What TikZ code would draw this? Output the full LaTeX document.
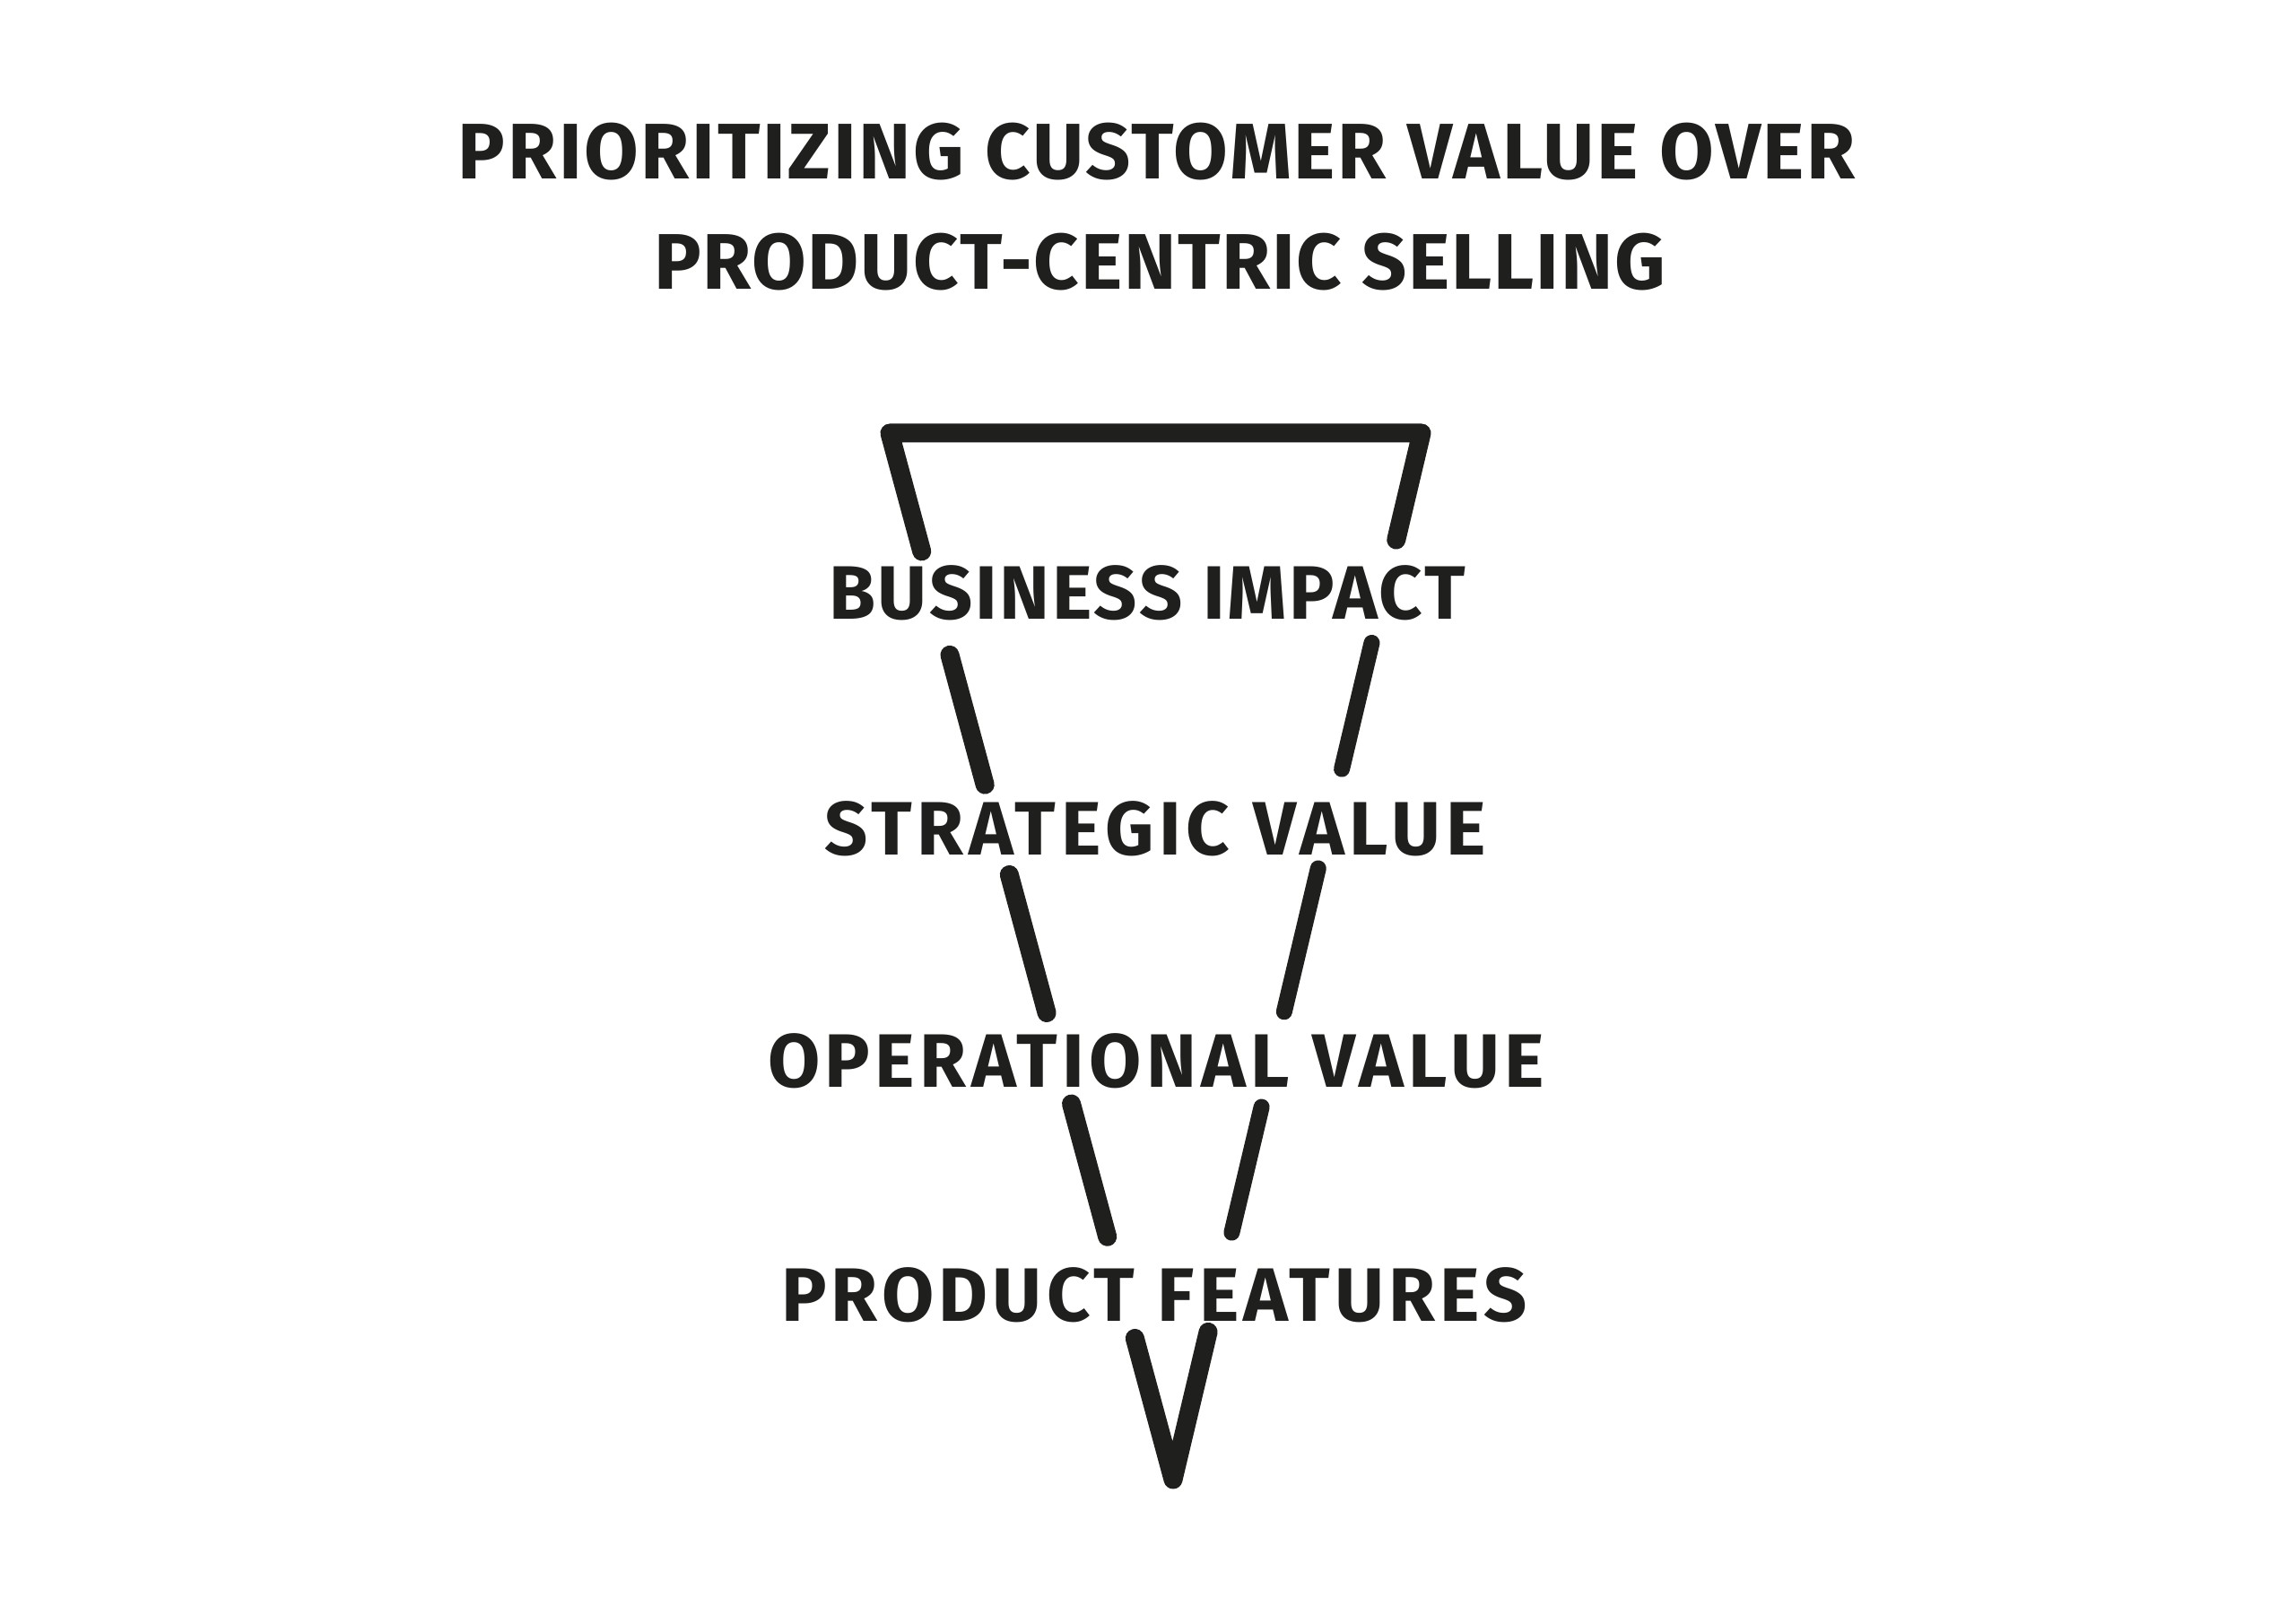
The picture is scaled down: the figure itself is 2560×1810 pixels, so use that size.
\documentclass[tikz,border=0pt]{standalone}
\usepackage{fontspec}
\setmainfont{Fira Sans}
\usetikzlibrary{calc}
\definecolor{ink}{RGB}{31,31,29}
\begin{document}
\begin{tikzpicture}[x=0.01cm,y=-0.01cm,
  legl/.style={draw=ink,line width=0.21cm,line cap=round,line join=round},
  legr/.style={draw=ink,line width=0.18cm,line cap=round,line join=round},
  lbl/.style={text=ink,font=\fontsize{24}{28}\selectfont\bfseries\addfontfeatures{LetterSpace=#1},inner sep=0pt},
  lbl/.default=0,
  ttl/.style={text=ink,font=\fontsize{25}{30}\selectfont\bfseries\addfontfeatures{LetterSpace=#1},inner sep=0pt},
  ttl/.default=0]
\useasboundingbox (0,0) rectangle (2560,1810);
\fill[white] (0,0) rectangle (2560,1810);
% titles
\node[ttl=3] (t1) at (1290,169) {PRIORITIZING CUSTOMER VALUE OVER};
\node[ttl=2] (t2) at (1293,292) {PRODUCT-CENTRIC SELLING};
% funnel corners
\coordinate (TL) at (992,483);
\coordinate (TR) at (1585,483);
\coordinate (B) at (1308,1650);
% labels
\node[lbl=3.3] (l1) at (1279,661) {BUSINESS IMPACT};
\node[lbl=6.8] (l2) at (1288,924) {STRATEGIC VALUE};
\node[lbl=6.3] (l3) at (1289,1183) {OPERATIONAL VALUE};
\node[lbl=6.2] (l4) at (1287,1444) {PRODUCT FEATURES};
% funnel strokes
\draw[legl] ($(TL)!0.113!(B)$) -- (TL) -- (TR) -- ($(TR)!0.102!(B)$);
\draw[legl] ($(TL)!0.212!(B)$) -- ($(TL)!0.336!(B)$);
\draw[legr] ($(TR)!0.2005!(B)$) -- ($(TR)!0.321!(B)$);
\draw[legl] ($(TL)!0.422!(B)$) -- ($(TL)!0.554!(B)$);
\draw[legr] ($(TR)!0.416!(B)$) -- ($(TR)!0.553!(B)$);
\draw[legl] ($(TL)!0.641!(B)$) -- ($(TL)!0.768!(B)$);
\draw[legr] ($(TR)!0.644!(B)$) -- ($(TR)!0.764!(B)$);
\draw[legl] ($(TL)!0.865!(B)$) -- (B) -- ($(TR)!0.859!(B)$);
\end{tikzpicture}
\end{document}
